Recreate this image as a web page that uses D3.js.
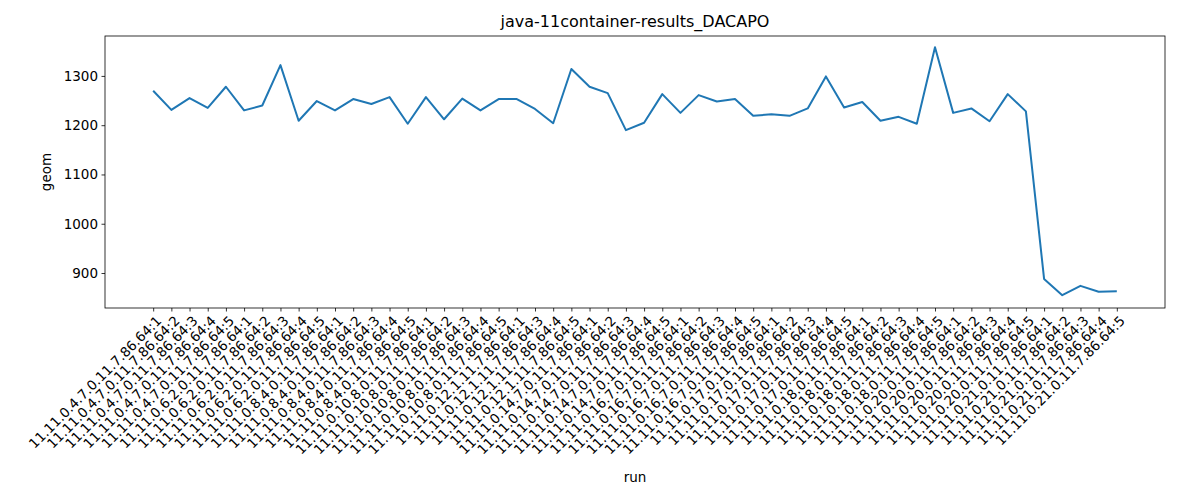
<!DOCTYPE html>
<html>
<head>
<meta charset="utf-8">
<script src="https://cdn.jsdelivr.net/npm/d3@7"></script>
<style>
  body { margin: 0; background: #fff; }
  text { font-family: "DejaVu Sans", sans-serif; fill: #000; }
</style>
</head>
<body>
<svg id="chart" width="1180" height="500"></svg>
<script>
var groups = ["4.7.0", "6.2.0", "8.4.0", "10.8.0", "12.1", "14.7.0", "16.7.0", "17.0", "18.0", "20.0", "21.0"];
var runNumbers = [
  [1, 2, 3, 4, 5], [1, 2, 3, 4, 5], [1, 2, 3, 4, 5], [1, 2, 3, 4, 5], [1, 3, 4, 5],
  [1, 2, 3, 4, 5], [1, 2, 3, 4, 5], [1, 2, 3, 4, 5], [1, 2, 3, 4, 5], [1, 2, 3, 4, 5], [1, 2, 3, 4, 5]
];
var geom = [
  1270, 1231, 1255, 1235, 1278, 1230, 1240, 1322, 1209, 1249,
  1230, 1253, 1243, 1257, 1203, 1257, 1212, 1254, 1230, 1253,
  1253, 1233, 1204, 1314, 1278, 1265, 1190, 1205, 1263, 1225,
  1261, 1248, 1253, 1219, 1222, 1219, 1234, 1299, 1236, 1247,
  1209, 1217, 1203, 1358, 1225, 1234, 1208, 1263, 1228, 888,
  855, 874, 862, 863
];
var yTicks = [900, 1000, 1100, 1200, 1300];

var runs = [];
groups.forEach(function (g, i) {
  runNumbers[i].forEach(function (n) {
    runs.push("11.11.0." + g + ".11.7.86.64:" + n);
  });
});

var margin = { left: 105, right: 15, top: 36, bottom: 192 };
var width = 1180 - margin.left - margin.right;
var height = 500 - margin.top - margin.bottom;

var svg = d3.select("#chart");
var g = svg.append("g").attr("transform", "translate(" + margin.left + "," + margin.top + ")");

var n = runs.length - 1;
var x = d3.scaleLinear().domain([-0.05 * n, n * 1.05]).range([0, width]);
var y = d3.scaleLinear().domain([829, 1381]).range([height, 0]);

var xAxis = g.append("g")
  .attr("transform", "translate(0," + height + ")")
  .call(d3.axisBottom(x).tickValues(d3.range(runs.length)).tickFormat(function (i) { return runs[i]; }).tickSize(3.5).tickSizeOuter(0));
xAxis.select(".domain").remove();
xAxis.selectAll("text")
  .attr("font-size", "13.5px")
  .attr("text-anchor", "end")
  .attr("dx", 0).attr("dy", 0)
  .attr("transform", "translate(4,9) rotate(-45)");

var yAxis = g.append("g")
  .call(d3.axisLeft(y).tickValues(yTicks).tickFormat(d3.format("d")).tickSize(3.5).tickSizeOuter(0));
yAxis.select(".domain").remove();
yAxis.selectAll("text").attr("font-size", "13.5px").attr("x", -7);

g.selectAll(".tick line").attr("stroke", "#000").attr("stroke-width", 0.8);

g.append("rect")
  .attr("width", width).attr("height", height)
  .attr("fill", "none").attr("stroke", "#000").attr("stroke-width", 0.8);

var line = d3.line()
  .x(function (d, i) { return x(i); })
  .y(function (d) { return y(d); });

g.append("path")
  .datum(geom)
  .attr("fill", "none")
  .attr("stroke", "#1f77b4")
  .attr("stroke-width", 2)
  .attr("stroke-linejoin", "round")
  .attr("d", line);

svg.append("text")
  .attr("x", margin.left + width / 2).attr("y", 27)
  .attr("text-anchor", "middle").attr("font-size", "16px")
  .text("java-11container-results_DACAPO");

svg.append("text")
  .attr("x", margin.left + width / 2).attr("y", 482)
  .attr("text-anchor", "middle").attr("font-size", "13.5px")
  .text("run");

svg.append("text")
  .attr("transform", "translate(51," + (margin.top + height / 2) + ") rotate(-90)")
  .attr("text-anchor", "middle").attr("font-size", "13.5px")
  .text("geom");
</script>
</body>
</html>
